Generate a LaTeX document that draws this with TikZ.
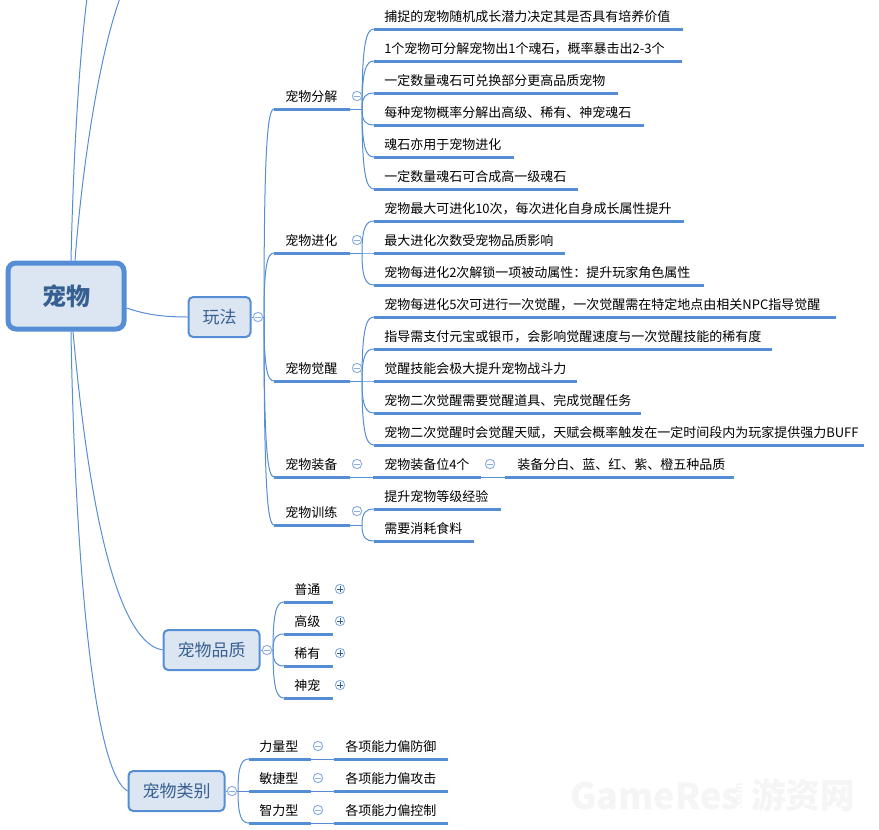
\documentclass[tikz,border=0pt]{standalone}
\usepackage{fontspec}
\setmainfont{Noto Sans CJK SC}
\usetikzlibrary{calc}
\definecolor{mainblue}{HTML}{558ED5}
\definecolor{iconblue}{HTML}{8DB0E2}
\definecolor{boxfill}{HTML}{DCE6F2}
\definecolor{boxtext}{HTML}{376092}
\tikzset{
  x=0.75pt,y=-0.75pt,
  link/.style={draw=mainblue,line width=0.75pt},
  topic/.style={rectangle,draw=mainblue,fill=boxfill,line width=1.5pt,rounded corners=3.5pt,inner sep=0pt,text=boxtext,font=\fontsize{12.75pt}{15pt}\selectfont},
  rootbox/.style={topic,line width=3.75pt,rounded corners=6pt,font=\fontsize{18pt}{21pt}\selectfont\bfseries},
  under/.style={draw=mainblue,line width=2.25pt},
  iconbase/.style={circle,draw=iconblue,fill=white,line width=0.75pt,minimum size=7pt,inner sep=0pt},
  collapse/.style={iconbase,path picture={\draw[iconblue,line width=0.75pt] (path picture bounding box.center) +(-2.6,0) -- +(2.6,0);}},
  expand/.style={iconbase,path picture={\draw[boxtext,line width=0.6pt] (path picture bounding box.center) +(-2.6,0) -- +(2.6,0) (path picture bounding box.center) +(0,-2.6) -- +(0,2.6);}},
  mark text/.style={inner sep=0pt,text=black!4},
  mark big/.style={mark text,font=\fontsize{27pt}{30pt}\selectfont\bfseries},
}
% \leaf{name}{x0}{x1}{y}{pad}{text}: underlined topic, text set pad px from the line start
\newcommand\leaf[6]{%
  \node[anchor=south west,inner sep=0pt,text height=8.5pt,text depth=5.4pt,font=\fontsize{9.75pt}{12pt}\selectfont,minimum width={(#3-#2)*0.75pt},text width={(#3-#2)*0.75pt},align=left] (#1) at (#2,#4) {\mbox{\hspace*{#5pt}#6}};
  \draw[under] (#1.south west) -- (#1.south east);
}
\newcommand\twig[2]{\draw[link] let \p1=(#1),\p2=(#2.south west) in (\p1) .. controls (\x1,{\y1+0.8*(\y2-\y1)}) and ({\x1+0.33*(\x2-\x1)},\y2) .. (\p2);}
\begin{document}
\begin{tikzpicture}
\useasboundingbox (0,0) rectangle (879,829);
\clip (0,0) rectangle (879,829);
% watermark
\node[mark big] (wmA) at (655,796) {GameRes};
\node[mark text,font=\fontsize{26pt}{30pt}\selectfont\bfseries] (wmC) at (803,795) {游资网};
\node[mark text,rotate=90,font=\fontsize{8pt}{9pt}\selectfont\bfseries] (wmB) at (739,796) {.com};
% main boxes
\node[rootbox,minimum width={116*0.75pt},minimum height={66*0.75pt}] (root) at (66,296) {宠物};
\node[topic,minimum width={62*0.75pt},minimum height={40*0.75pt}] (play) at (219.5,317) {玩法};
\node[topic,minimum width={96*0.75pt},minimum height={40*0.75pt}] (qual) at (211.5,650) {宠物品质};
\node[topic,minimum width={96*0.75pt},minimum height={40*0.75pt}] (kind) at (176.5,791) {宠物类别};
% free ends and stems
\coordinate (upA) at (87,-2);
\coordinate (upB) at (120,-2);
\coordinate (stemPlay) at (264,317);
\coordinate (stemFen) at (362,109);
\coordinate (stemJin) at (362,253);
\coordinate (stemJue) at (362,381);
\coordinate (stemXun) at (362,525);
\coordinate (stemQual) at (273,650);
\coordinate (stemKind) at (238,791);
% root connectors
\draw[link] ([xshift=5*0.75pt]root.north) .. controls (73,170) and (78,70) .. (upA);
\draw[link] ([xshift=9*0.75pt]root.north) .. controls (82,170) and (98,60) .. (upB);
\draw[link] (root.east |- 0,308) .. controls (147,315) and (165,317) .. (play.west);
\draw[link] ([xshift=7*0.75pt]root.south) .. controls (82,430) and (105,640) .. (qual.west);
\draw[link] ([xshift=5*0.75pt]root.south) .. controls (74,520) and (90,770) .. (kind.west);
% second level
\leaf{fen}{274}{349}{109}{8.25}{宠物分解}
\leaf{jin}{274}{349}{253}{8.25}{宠物进化}
\leaf{jue}{274}{349}{381}{8.25}{宠物觉醒}
\leaf{zhuang}{274}{349}{477}{8.25}{宠物装备}
\leaf{xun}{274}{349}{525}{8.25}{宠物训练}
% leaves
\leaf{a1}{374}{682}{29}{7.5}{捕捉的宠物随机成长潜力决定其是否具有培养价值}
\leaf{a2}{374}{681}{61}{7.5}{1个宠物可分解宠物出1个魂石，概率暴击出2-3个}
\leaf{a3}{374}{617}{93}{7.5}{一定数量魂石可兑换部分更高品质宠物}
\leaf{a4}{374}{643}{125}{7.5}{每种宠物概率分解出高级、稀有、神宠魂石}
\leaf{a5}{374}{513}{157}{7.5}{魂石亦用于宠物进化}
\leaf{a6}{374}{577}{189}{7.5}{一定数量魂石可合成高一级魂石}
\leaf{b1}{374}{683}{221}{7.5}{宠物最大可进化10次，每次进化自身成长属性提升}
\leaf{b2}{374}{564}{253}{7.5}{最大进化次数受宠物品质影响}
\leaf{b3}{374}{703}{285}{7.5}{宠物每进化2次解锁一项被动属性：提升玩家角色属性}
\leaf{c1}{374}{835}{317}{7.5}{宠物每进化5次可进行一次觉醒，一次觉醒需在特定地点由相关NPC指导觉醒}
\leaf{c2}{374}{771}{349}{7.5}{指导需支付元宝或银币，会影响觉醒速度与一次觉醒技能的稀有度}
\leaf{c3}{374}{576}{381}{7.5}{觉醒技能会极大提升宠物战斗力}
\leaf{c4}{374}{640}{413}{7.5}{宠物二次觉醒需要觉醒道具、完成觉醒任务}
\leaf{c5}{374}{863}{445}{7.5}{宠物二次觉醒时会觉醒天赋，天赋会概率触发在一定时间段内为玩家提供强力BUFF}
\leaf{d1}{373}{480}{477}{8.25}{宠物装备位4个}
\leaf{d2}{505}{733}{477}{9}{装备分白、蓝、红、紫、橙五种品质}
\leaf{e1}{374}{500}{509}{7.5}{提升宠物等级经验}
\leaf{e2}{374}{473}{541}{7.5}{需要消耗食料}
\leaf{q1}{284}{332}{602}{7.5}{普通}
\leaf{q2}{284}{332}{634}{7.5}{高级}
\leaf{q3}{284}{332}{666}{7.5}{稀有}
\leaf{q4}{284}{332}{698}{7.5}{神宠}
\leaf{k1}{249}{310}{759}{7.5}{力量型}
\leaf{k2}{249}{310}{791}{7.5}{敏捷型}
\leaf{k3}{249}{310}{823}{7.5}{智力型}
\leaf{m1}{334}{447}{759}{8.25}{各项能力偏防御}
\leaf{m2}{334}{447}{791}{8.25}{各项能力偏攻击}
\leaf{m3}{334}{447}{823}{8.25}{各项能力偏控制}
% connectors: play
\draw[link] (play.east) -- (stemPlay);
\foreach \t in {fen,jin,jue,zhuang,xun}{\twig{stemPlay}{\t}}
\draw[link] (fen.south east) -- (stemFen);
\foreach \t in {a1,a2,a3,a4,a5,a6}{\twig{stemFen}{\t}}
\draw[link] (jin.south east) -- (stemJin);
\foreach \t in {b1,b2,b3}{\twig{stemJin}{\t}}
\draw[link] (jue.south east) -- (stemJue);
\foreach \t in {c1,c2,c3,c4,c5}{\twig{stemJue}{\t}}
\draw[link] (zhuang.south east) -- (d1.south west);
\draw[link] (d1.south east) -- (d2.south west);
\draw[link] (xun.south east) -- (stemXun);
\foreach \t in {e1,e2}{\twig{stemXun}{\t}}
\draw[link] (qual.east) -- (stemQual);
\foreach \t in {q1,q2,q3,q4}{\twig{stemQual}{\t}}
\draw[link] (kind.east) -- (stemKind);
\foreach \t in {k1,k2,k3}{\twig{stemKind}{\t}}
\draw[link] (k1.south east) -- (m1.south west);
\draw[link] (k2.south east) -- (m2.south west);
\draw[link] (k3.south east) -- (m3.south west);
% icons
\node[collapse] (iPlay) at (258,317) {};
\node[collapse] (iFen) at (357,96) {};
\node[collapse] (iJin) at (357,240) {};
\node[collapse] (iJue) at (357,368) {};
\node[collapse] (iZh) at (357,464) {};
\node[collapse] (iXun) at (357,511) {};
\node[collapse] (iD) at (490,464) {};
\node[collapse] (iQual) at (267,650) {};
\node[collapse] (iKind) at (232,791) {};
\node[collapse] (iK1) at (318,746) {};
\node[collapse] (iK2) at (318,778) {};
\node[collapse] (iK3) at (318,810) {};
\node[expand] (iQ1) at (340,589) {};
\node[expand] (iQ2) at (340,621) {};
\node[expand] (iQ3) at (340,653) {};
\node[expand] (iQ4) at (340,685) {};
\end{tikzpicture}
\end{document}
